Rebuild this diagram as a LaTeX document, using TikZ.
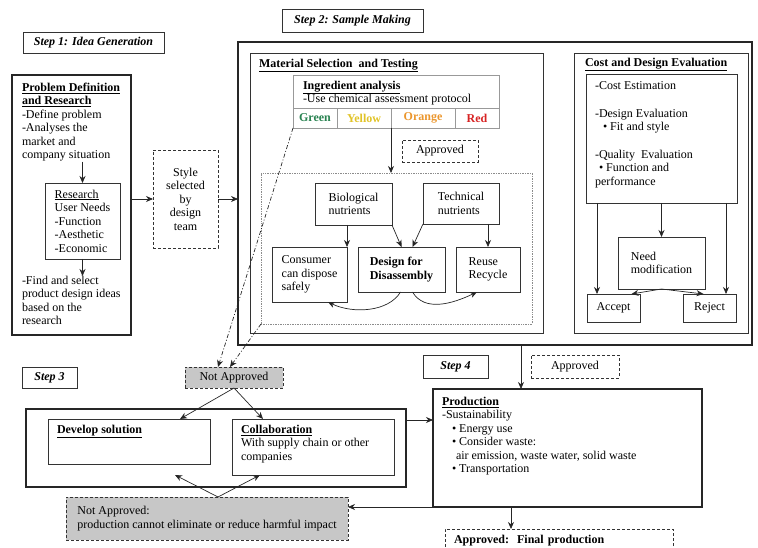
\documentclass[tikz,border=0pt]{standalone}
\usepackage{fontspec}
\setmainfont{Liberation Serif}
\usepackage{tikz}
\usetikzlibrary{shapes, arrows.meta, positioning, calc}
\definecolor{cellgreen}{RGB}{40,130,80}
\definecolor{cellyellow}{RGB}{225,195,40}
\definecolor{cellorange}{RGB}{235,150,45}
\definecolor{cellred}{RGB}{215,35,35}

\begin{document}
\begin{tikzpicture}[
    x=1pt, y=-1pt,
    every node/.style={font=\fontsize{12}{13.5}\selectfont, outer sep=0pt},
    wh/.style 2 args={minimum width=#1pt, minimum height=#2pt},
    frame/.style={rectangle, draw=black!80, line width=0.9pt, anchor=north west},
    box/.style={rectangle, draw=black!80, line width=0.7pt, align=left, anchor=north west},
    thickbox/.style={rectangle, draw=black!85, line width=1.8pt, anchor=north west},
    dashbox/.style={box, dash pattern=on 3pt off 2pt},
    greybox/.style={dashbox, fill=black!22},
    dotbox/.style={box, draw=black!45, densely dotted, line width=0.8pt},
    steplabel/.style={box, font=\fontsize{12}{13.5}\selectfont\bfseries\itshape},
    txt/.style={anchor=north west, inner sep=0pt, align=left},
    cell/.style={rectangle, draw=black!40, line width=0.6pt, minimum height=20pt, font=\fontsize{12}{13.5}\selectfont\bfseries},
    arrow/.style={-{Stealth[length=7pt,width=6pt]}, line width=0.7pt, draw=black!85},
    dashdot/.style={arrow, dash pattern=on 4pt off 2pt on 1pt off 2pt}
]
\useasboundingbox (0,0) rectangle (758,548);
\clip (0,0) rectangle (758,548);

% Step 1
\node[steplabel, wh={141}{21}] (step1) at (23,32) {Step 1: Idea Generation};
\node[thickbox, wh={119}{260}] (prob) at (12,75) {};
\node[txt] (probtxt) at (22,83) {\underline{\textbf{Problem Definition}}\\\underline{\textbf{and Research}}\\-Define problem\\-Analyses the\\market and\\company situation};
\node[box, wh={75}{76}] (research) at (45,183) {\underline{Research}\\User Needs\\-Function\\-Aesthetic\\-Economic};
\node[txt] (findtxt) at (22,276) {-Find and select\\product design ideas\\based on the\\research};
\node[dashbox, wh={65}{98}, align=center] (style) at (153,150) {Style\\selected\\by\\design\\team};

% Step 2
\node[steplabel, wh={141}{23}] (step2) at (282,9) {Step 2: Sample Making};
\node[thickbox, wh={514}{303}] (big) at (238,42) {};
\node[frame, wh={293}{280}] (material) at (250,53) {};
\node[txt] (mattitle) at (259,59) {\underline{\textbf{Material Selection\ \ and Testing}}};
\node[box, draw=black!40, wh={206}{33}] (ingr) at (293,75) {};
\node[txt] (ingrtxt) at (303,81) {\underline{\textbf{Ingredient analysis}}\\-Use chemical assessment protocol};
\node[cell, anchor=north west, wh={44}{20}, text=cellgreen] (green) at (293,108) {Green};
\node[cell, wh={54}{20}, text=cellyellow, right=0pt of green] (yellow) {Yellow};
\node[cell, wh={64}{20}, text=cellorange, right=0pt of yellow] (orange) {Orange};
\node[cell, wh={44}{20}, text=cellred, right=0pt of orange] (red) {Red};
\node[dashbox, wh={76}{22}] (approved1) at (402,140) {Approved};
\node[dotbox, wh={271}{151}] (inner) at (261,173) {};
\node[box, wh={77}{42}] (bio) at (315,183) {Biological\\nutrients};
\node[box, wh={76}{41}] (tech) at (423,183) {Technical\\nutrients};
\node[box, wh={75}{55}] (consumer) at (272,247) {Consumer\\can dispose\\safely};
\node[box, wh={87}{45}, font=\fontsize{12}{13.5}\selectfont\bfseries] (dfd) at (358,247) {Design for\\Disassembly};
\node[box, wh={64}{45}] (reuse) at (456,247) {Reuse\\Recycle};

% Cost and design
\node[frame, wh={174}{280}] (cost) at (574,53) {};
\node[txt] (costtitle) at (585,58) {\underline{\textbf{Cost and Design Evaluation}}};
\node[box, wh={151}{129}] (costin) at (586,74) {};
\node[txt] (costtxt) at (595,82) {-Cost Estimation\\[14pt]-Design Evaluation\\\hspace*{8pt}\textbullet\ Fit and style\\[14pt]-Quality\ \ Evaluation\\\hspace*{4pt}\textbullet\ Function and\\performance};
\node[box, wh={87}{52}] (needmod) at (618,237) {Need\\modification};
\node[box, wh={53}{28}, align=center] (accept) at (587,294) {Accept};
\node[box, wh={53}{28}, align=center] (reject) at (683,294) {Reject};

% Step 3
\node[steplabel, wh={55}{21}] (step3) at (22,367) {Step 3};
\node[greybox, wh={98}{21}] (notapp1) at (185,367) {Not Approved};
\node[thickbox, wh={380}{78}] (step3box) at (26,409) {};
\node[box, wh={162}{45}] (develop) at (48,419) {};
\node[txt] (devtxt) at (57,425) {\underline{\textbf{Develop solution}}};
\node[box, wh={162}{56}] (collab) at (232,419) {};
\node[txt] (coltxt) at (241,425) {\underline{\textbf{Collaboration}}\\With supply chain or other\\companies};
\node[greybox, wh={282}{43}] (notapp2) at (66,497) {Not Approved:\\production cannot eliminate or reduce harmful impact};

% Step 4
\node[steplabel, wh={65}{23}] (step4) at (423,355) {Step 4};
\node[dashbox, wh={88}{23}] (approved2) at (531,355) {Approved};
\node[thickbox, wh={269}{118}] (prod) at (433,389) {};
\node[txt] (prodtxt) at (442,397) {\underline{\textbf{Production}}\\-Sustainability\\\hspace*{10pt}\textbullet\ Energy use\\\hspace*{10pt}\textbullet\ Consider waste:\\\hspace*{14pt}air emission, waste water, solid waste\\\hspace*{10pt}\textbullet\ Transportation};
\node[dashbox, wh={228}{24}, text width=210pt] (final) at (445,529) {\textbf{Approved:\ \ Final production}};

% Arrows, step 1
\draw[arrow] (probtxt.south -| research.north) -- (research.north);
\draw[arrow] (research.south) -- (research.south |- findtxt.north);
\draw[arrow] (prob.east |- style.west) -- (style.west);
\draw[arrow] (style.east) -- (style.east -| big.west);

% Arrows, step 2
\draw[arrow] (orange.south west) -- (orange.south west |- inner.north);
\draw[arrow] (bio.south -| consumer.north east) -- (consumer.north east);
\draw[arrow] (bio.south east) -- (dfd.north);
\draw[arrow] (tech.south west) -- ($(dfd.north)+(11,0)$);
\draw[arrow] (reuse.north |- tech.south) -- (reuse.north);
\draw[arrow] ($(dfd.south)+(-1,0)$) .. controls +(-12,20) and +(25,12) .. ($(consumer.south east)+(-19,0)$);
\draw[arrow] ($(dfd.south)+(11,0)$) .. controls +(12,20) and +(-25,12) .. ($(reuse.south)+(-11,0)$);

% Arrows, cost and design
\draw[arrow] (costin.south west) ++(11,0) -- ($(accept.north west)+(10,0)$);
\draw[arrow] (costin.south) -- (needmod.north);
\draw[arrow] (costin.south east) ++(-11,0) -- ($(reject.north east)+(-10,0)$);
\draw[arrow] (needmod.south) -- ($(accept.north)+(18,0)$);
\draw[arrow] (needmod.south) -- ($(reject.north)+(-6,0)$);

% Not approved paths
\draw[dashdot] (green.south west) -- ([xshift=-16pt]notapp1.north);
\draw[dashdot] (inner.south west) -- ([xshift=-4pt]notapp1.north);
\draw[arrow] (notapp1.south) -- ($(develop.north east)+(-30,0)$);
\draw[arrow] (notapp1.south) -- ($(collab.north west)+(31,0)$);
\draw[arrow] ($(notapp2.north)+(11,0)$) -- ($(develop.south east)+(-35,11)$);
\draw[arrow] ($(notapp2.north)+(11,0)$) -- ($(collab.south west)+(28,0)$);

% Production
\coordinate (prodin) at ($(prod.north west)+(88,0)$);
\coordinate (s3out) at ($(step3box.north east)+(0,11)$);
\coordinate (prodout) at ($(prod.south west)+(78,0)$);
\draw[arrow] (big.south -| prodin) -- (prodin);
\draw[arrow] (s3out) -- (s3out -| prod.west);
\draw[arrow] (prod.south west) -- (prod.south west -| notapp2.east);
\draw[arrow] (prodout) -- (prodout |- final.north);

\end{tikzpicture}
\end{document}
